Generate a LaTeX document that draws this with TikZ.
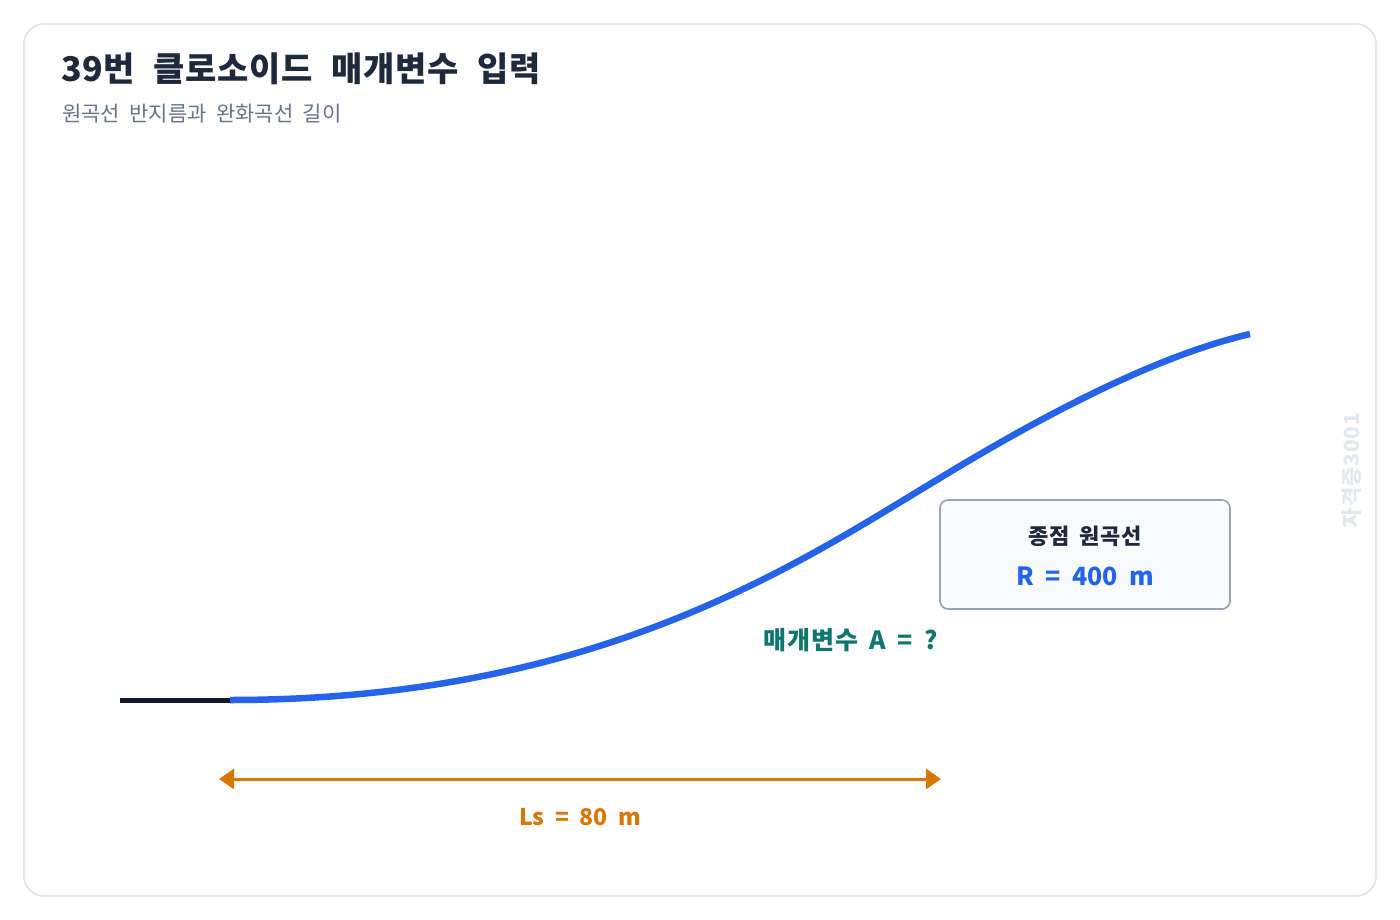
\documentclass[tikz,border=0pt]{standalone}
\usepackage{fontspec}
\setmainfont{Noto Sans CJK KR}
\newfontfamily\titlefont{Noto Sans CJK KR}[WordSpace=2.2, LetterSpace=2]
\newfontfamily\subfont{Noto Sans CJK KR}[WordSpace=2.5]
\newfontfamily\boxfont{Noto Sans CJK KR}[WordSpace=2.5, LetterSpace=3]
\newfontfamily\widefont{Noto Sans CJK KR}[WordSpace=2]
\newfontfamily\paramfont{Noto Sans CJK KR}[WordSpace=1.8, LetterSpace=3]
\newfontfamily\wmfont{Noto Sans CJK KR}[LetterSpace=4]
\usetikzlibrary{arrows.meta}
\definecolor{cardline}{HTML}{E2E8F0}
\definecolor{titlecol}{HTML}{1E293B}
\definecolor{subcol}{HTML}{64748B}
\definecolor{curveblue}{HTML}{2563EB}
\definecolor{tangentcol}{HTML}{0F172A}
\definecolor{boxfill}{HTML}{F8FAFC}
\definecolor{boxline}{HTML}{94A3B8}
\definecolor{tealcol}{HTML}{0F766E}
\definecolor{orangecol}{HTML}{D97706}
\definecolor{wmcol}{HTML}{E2E8F0}
\tikzset{
  card/.style={draw=cardline, line width=2pt, rounded corners=20pt, fill=white},
  infobox/.style={draw=boxline, line width=1.6pt, rounded corners=8pt, fill=boxfill},
  curveline/.style={draw=curveblue, line width=6.5pt},
  tangentline/.style={draw=tangentcol, line width=5pt},
  dimline/.style={draw=orangecol, line width=3pt, {Triangle[length=15pt,width=20pt]}-{Triangle[length=15pt,width=20pt]}},
  lbl/.style={inner sep=0pt}
}
\begin{document}
\begin{tikzpicture}[x=1pt,y=-1pt]
\useasboundingbox (0,0) rectangle (1400,920);
\draw[card] (24,24) rectangle (1376,896);
\node[lbl, anchor=base west, text=titlecol, font=\titlefont\bfseries\fontsize{34}{38}\selectfont] (title) at (61,82) {39번 클로소이드 매개변수 입력};
\node[lbl, anchor=base west, text=subcol, font=\subfont\fontsize{21}{25}\selectfont] (sub) at (62,122) {원곡선 반지름과 완화곡선 길이};
% tangent and curve
\coordinate (t0) at (120,700);
\coordinate (ts) at (230,700);
\coordinate (sc) at (940,478);
\coordinate (ce) at (1250,334);
\draw[tangentline] (t0) -- (ts);
\draw[curveline] (ts) .. controls (600,700) and (800,562) .. (sc) .. controls (1052,410) and (1160,355) .. (ce);
% info box
\draw[infobox] (940,500) rectangle (1230,609);
\node[lbl, text=titlecol, font=\boxfont\bfseries\fontsize{22}{26}\selectfont] (boxt) at (1085,536) {종점 원곡선};
\node[lbl, text=curveblue, font=\widefont\bfseries\fontsize{25}{30}\selectfont] (boxr) at (1085,576) {R = 400 m};
% parameter label
\node[lbl, text=tealcol, font=\paramfont\bfseries\fontsize{25}{30}\selectfont] (param) at (851,640) {매개변수 A = ?};
% dimension
\coordinate (da) at (219,779);
\coordinate (db) at (941,779);
\draw[dimline] (da) -- (db);
\node[lbl, text=orangecol, font=\widefont\bfseries\fontsize{23}{28}\selectfont] (ls) at (580,817) {Ls = 80 m};
% watermark
\node[lbl, text=wmcol, rotate=90, font=\wmfont\bfseries\fontsize{21}{25}\selectfont] (wm) at (1352,470) {자격증3001};
\end{tikzpicture}
\end{document}
